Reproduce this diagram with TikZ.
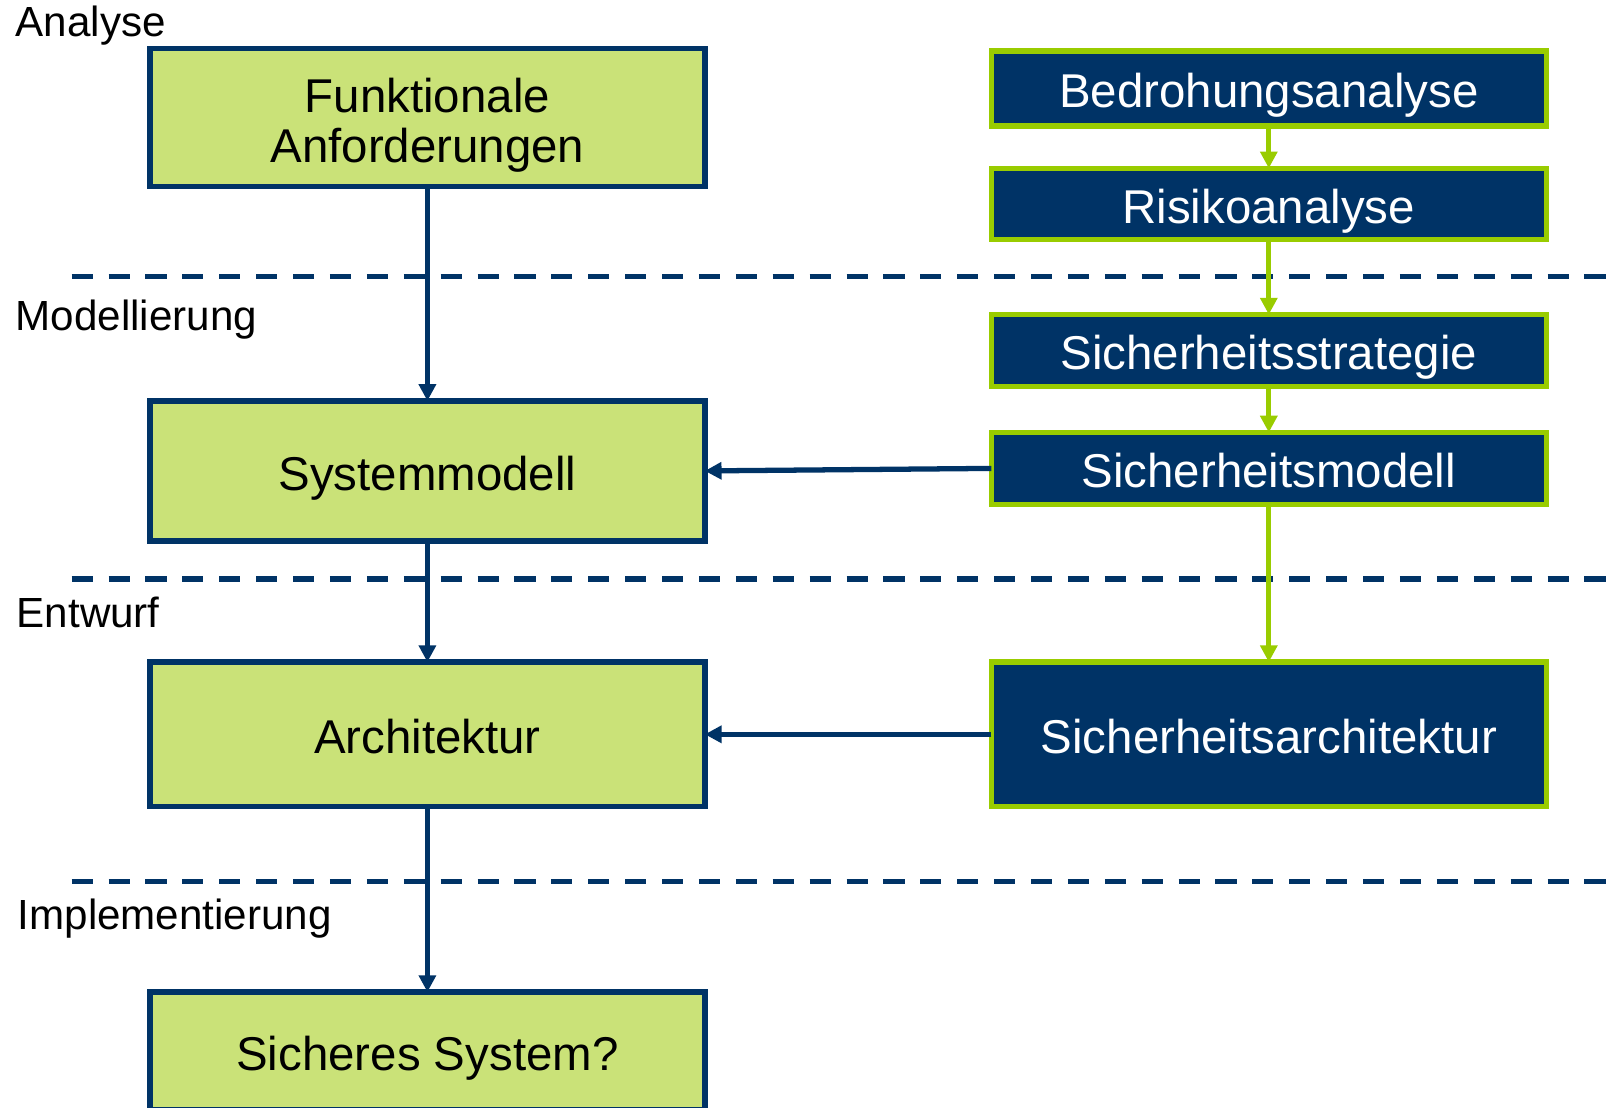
\documentclass[tikz,border=0pt]{standalone}
\usepackage{fontspec}
\setmainfont{Liberation Sans}
\usetikzlibrary{arrows.meta}
\definecolor{navy}{RGB}{0,51,102}
\definecolor{lime}{RGB}{153,204,0}
\definecolor{limefill}{RGB}{202,226,120}
\tikzset{
  greenbox/.style={draw=navy, line width=3.1pt, fill=limefill, text=black,
    minimum width=11.1cm, inner sep=0pt, outer sep=0pt, align=center,
    text depth=0pt, font=\fontsize{27}{29}\selectfont},
  bluebox/.style={draw=lime, line width=3.1pt, fill=navy, text=white,
    minimum width=11.1cm, inner sep=0pt, outer sep=0pt, align=center,
    text depth=0pt, font=\fontsize{27}{29}\selectfont},
  oneline/.style={text height=22pt},
  phase/.style={anchor=base west, inner sep=0pt, font=\fontsize{24}{26}\selectfont},
  sep/.style={draw=navy, line width=3pt, dash pattern=on 12pt off 9pt},
  bluearrow/.style={draw=navy, line width=3pt, -{Triangle[length=9.5pt,width=9.5pt]}},
  greenarrow/.style={draw=lime, line width=3pt, -{Triangle[length=9.5pt,width=9.5pt]}}
}
\begin{document}
\begin{tikzpicture}[x=0.02cm, y=-0.02cm]
\clip (0,0) rectangle (1607,1107);
\fill[white] (0,0) rectangle (1607,1107);

% phase separators
\draw[sep] (71.7,276.7) -- (1607,276.7);
\draw[sep] (71.7,579.1) -- (1607,579.1);
\draw[sep] (71.7,881.4) -- (1607,881.4);

% phase labels
\node[phase] (lana) at (15.4,36.5) {Analyse};
\node[phase] (lmod) at (15.4,330) {Modellierung};
\node[phase] (lent) at (16.4,627) {Entwurf};
\node[phase] (limp) at (17.4,929.6) {Implementierung};

% left column
\node[greenbox, text height=52pt, minimum height=2.76cm] (fa) at (427.4,117.3) {Funktionale\\Anforderungen};
\node[greenbox, oneline, minimum height=2.8cm] (sysm) at (427.4,470.9) {Systemmodell};
\node[greenbox, oneline, minimum height=2.89cm] (arch) at (427.4,734.3) {Architektur};
\node[greenbox, oneline, minimum height=2.36cm] (sich) at (427.4,1051) {Sicheres System?};

% right column
\node[bluebox, oneline, minimum height=1.5cm] (bed) at (1268.8,88.6) {Bedrohungsanalyse};
\node[bluebox, oneline, minimum height=1.43cm] (risk) at (1268.8,204) {Risikoanalyse};
\node[bluebox, oneline, minimum height=1.44cm] (strat) at (1268.8,350.5) {Sicherheitsstrategie};
\node[bluebox, oneline, minimum height=1.44cm] (smod) at (1268.8,468.4) {Sicherheitsmodell};
\node[bluebox, oneline, minimum height=2.89cm] (sarch) at (1268.8,734.3) {Sicherheitsarchitektur};

% connectors
\draw[bluearrow] (fa.south) -- (sysm.north);
\draw[bluearrow] (sysm.south) -- (arch.north);
\draw[bluearrow] (arch.south) -- (sich.north);
\draw[greenarrow] (bed.south) -- (risk.north);
\draw[greenarrow] (risk.south) -- (strat.north);
\draw[greenarrow] (strat.south) -- (smod.north);
\draw[greenarrow] (smod.south) -- (sarch.north);
\draw[bluearrow] (smod.west) -- (sysm.east);
\draw[bluearrow] (sarch.west) -- (arch.east);
\end{tikzpicture}
\end{document}
